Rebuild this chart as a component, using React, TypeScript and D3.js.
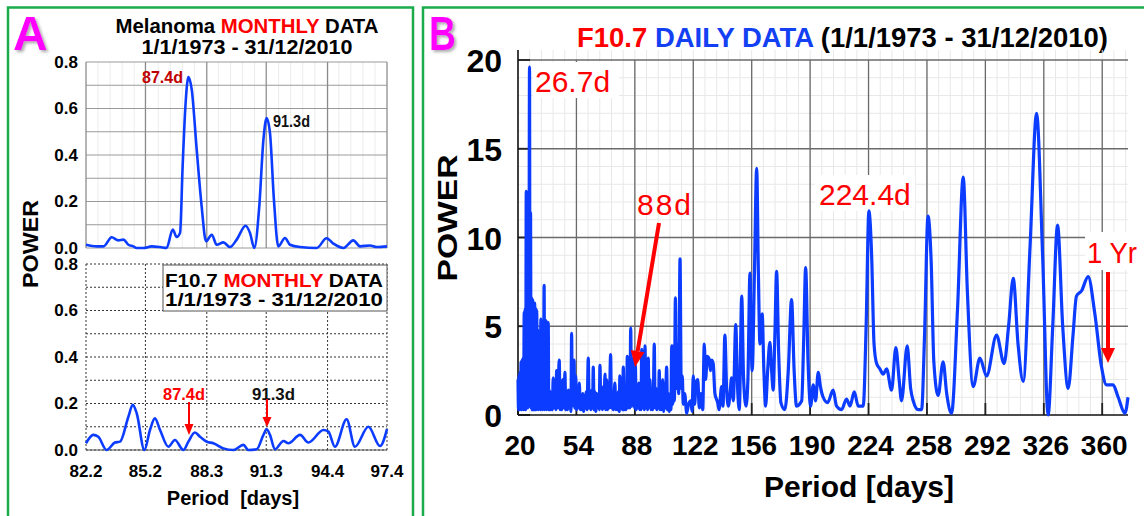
import React from 'react';
import * as d3 from 'd3';

const W = 1144;
const H = 516;
const FONT = '"Liberation Sans", Arial, sans-serif';
const BLUE = '#0b3cff';
const RED = '#ff0000';
const GREEN = '#1aab4b';

// Panel A: [period in days, power]
const melanomaMonthly: [number, number][] = [
    [82.2, 0.014], [82.74, 0.007], [83.08, 0.007], [83.5, 0.046], [83.83, 0.033], [84.09, 0.036],
    [84.34, 0.014], [84.59, 0.007], [84.76, 0], [85.1, 0], [85.52, 0.007], [85.94, 0.004],
    [86.27, 0], [86.58, 0.079], [86.78, 0.047], [86.95, 0.065], [87.08, 0.351], [87.22, 0.609],
    [87.37, 0.735], [87.54, 0.681], [87.79, 0.423], [88.04, 0.179], [88.26, 0.029], [88.55, 0.057],
    [88.8, 0.014], [89.14, 0.024], [89.47, 0.004], [89.81, 0.036], [90.26, 0.096], [90.48, 0.065],
    [90.7, 0], [90.95, 0.179], [91.16, 0.466], [91.32, 0.559], [91.49, 0.495], [91.69, 0.208],
    [91.91, 0.007], [92.25, 0.043], [92.5, 0.014], [93.01, 0.004], [93.85, 0], [94.35, 0.042],
    [94.69, 0.019], [95.2, 0], [95.7, 0.033], [96.04, 0.007], [96.54, 0.011], [96.88, 0.004],
    [97.4, 0.007],
];

const f107Monthly: [number, number][] = [
    [82.2, 0.029], [82.57, 0.065], [82.82, 0.057], [83.24, 0], [83.66, 0.032], [83.92, 0.036],
    [84.34, 0.143], [84.56, 0.194], [84.76, 0.158], [85.15, 0], [85.43, 0.086], [85.68, 0.136],
    [85.94, 0.086], [86.36, 0.014], [86.69, 0.043], [87.12, 0], [87.37, 0.036], [87.7, 0.075],
    [87.96, 0.057], [88.29, 0.036], [88.63, 0.029], [89.14, 0.007], [89.64, 0], [90.15, 0.022],
    [90.4, 0], [90.82, 0.003], [91.16, 0.065], [91.32, 0.089], [91.49, 0.065], [91.74, 0.003],
    [92.17, 0.039], [92.42, 0.029], [93.01, 0.065], [93.43, 0.032], [94.19, 0.086], [94.44, 0.079],
    [94.77, 0.014], [95.36, 0.132], [95.78, 0.014], [96.46, 0.1], [97.05, 0.017], [97.4, 0.09],
];

const aTicksX = [82.2, 85.2, 88.3, 91.3, 94.4, 97.4];
const aTicksY = [0, 0.2, 0.4, 0.6, 0.8];

// Panel B: [period in days, power]
const f107Daily: [number, number][] = [
    [20.0, 2.0], [20.3, 0.3], [20.6, 2.2], [20.9, 0.3], [21.2, 2.4], [21.5, 0.4], [21.8, 3.0], [22.1, 0.3],
    [22.4, 3.1], [22.7, 0.4], [23.0, 3.2], [23.3, 0.3], [23.6, 5.8], [23.9, 0.4], [24.2, 6.0], [24.5, 0.3],
    [24.8, 12.6], [25.1, 0.5], [25.4, 6.2], [25.7, 0.4], [26.0, 9.5], [26.3, 0.5], [26.7, 19.6], [27.0, 0.5],
    [27.3, 11.4], [27.6, 0.4], [27.9, 6.6], [28.2, 0.3], [28.5, 6.5], [28.8, 0.4], [29.1, 6.2], [29.4, 0.3],
    [29.7, 6.3], [30.0, 0.4], [30.3, 6.0], [30.6, 0.3], [30.9, 5.9], [31.2, 0.4], [31.5, 4.8], [31.8, 0.3],
    [32.1, 3.1], [32.4, 0.4], [32.7, 4.5], [33.0, 0.3], [33.3, 5.4], [33.6, 0.4], [33.9, 4.0], [34.2, 0.3],
    [34.5, 3.5], [34.8, 0.4], [35.2, 7.3], [35.5, 0.3], [35.8, 5.3], [36.1, 0.4], [36.4, 5.3], [36.7, 0.3],
    [37.0, 5.2], [37.3, 0.4], [37.6, 5.2], [37.9, 0.3], [38.2, 1.4], [38.5, 0.3], [38.8, 1.3], [39.0, 0.3],
    [39.5, 1.2], [40.0, 0.3], [40.5, 2.1], [41.0, 0.4], [41.5, 1.6], [42.0, 0.3], [42.5, 2.5], [43.0, 0.4],
    [43.5, 1.8], [44.0, 3.1], [44.5, 0.3], [45.0, 1.5], [45.5, 0.3], [46.0, 2.0], [46.5, 0.4], [47.0, 1.3],
    [47.3, 2.4], [47.8, 0.3], [48.3, 1.2], [48.8, 0.3], [49.3, 1.4], [49.8, 0.4], [50.3, 1.0], [50.8, 0.2],
    [51.2, 4.6], [51.6, 0.5], [52.1, 1.5], [52.6, 3.1], [53.1, 0.4], [53.6, 2.2], [54.1, 0.3], [54.6, 1.3],
    [55.1, 0.4], [55.7, 1.8], [56.2, 0.3], [56.7, 1.1], [57.2, 0.3], [57.7, 1.2], [58.2, 0.2], [58.7, 1.0],
    [59.2, 0.4], [59.7, 1.3], [60.2, 0.3], [60.9, 3.2], [61.4, 0.4], [61.9, 1.2], [62.4, 0.3], [62.9, 1.4],
    [63.4, 0.4], [63.8, 2.7], [64.3, 0.3], [64.8, 1.3], [65.3, 0.2], [65.8, 1.2], [66.3, 0.4], [66.8, 1.0],
    [67.3, 0.3], [67.7, 2.8], [68.2, 0.4], [68.7, 1.5], [69.2, 0.3], [69.7, 1.6], [70.1, 0.4], [70.6, 2.3],
    [71.1, 0.3], [71.6, 2.0], [72.1, 0.3], [72.6, 1.1], [73.1, 0.4], [73.9, 3.4], [74.4, 0.4], [74.9, 1.2],
    [75.4, 0.3], [75.9, 1.0], [76.4, 1.8], [76.9, 0.3], [77.4, 1.1], [77.9, 0.3], [78.4, 1.3], [78.9, 0.2],
    [79.3, 2.2], [79.8, 0.4], [80.3, 1.2], [80.8, 0.3], [81.3, 2.7], [81.8, 0.3], [82.3, 1.5], [82.8, 0.3],
    [83.3, 1.2], [83.6, 3.3], [84.1, 0.4], [84.6, 1.8], [85.1, 0.4], [85.6, 4.9], [86.1, 0.5], [86.6, 2.5],
    [87.0, 0.6], [87.4, 3.2], [87.9, 0.4], [88.3, 2.8], [88.8, 0.3], [89.3, 1.2], [89.8, 0.4], [90.3, 1.8],
    [90.8, 0.3], [91.3, 1.6], [91.6, 0.3], [92.0, 3.7], [92.5, 0.4], [93.0, 1.5], [93.5, 0.3], [93.9, 3.9],
    [94.4, 0.4], [94.9, 2.0], [95.4, 0.3], [95.8, 3.2], [96.3, 0.5], [96.8, 2.0], [97.3, 0.3], [97.8, 1.5],
    [98.3, 0.3], [98.8, 1.2], [99.3, 4.0], [99.8, 0.4], [100.3, 1.5], [100.8, 0.3], [101.3, 1.2], [101.8, 0.4],
    [102.2, 2.5], [102.7, 0.3], [103.2, 1.5], [103.7, 0.3], [104.2, 2.0], [104.7, 0.2], [105.2, 1.1], [105.7, 0.4],
    [106.5, 2.7], [107.0, 0.3], [107.5, 1.2], [108.0, 0.2], [108.5, 1.0], [109.0, 0.3], [109.5, 3.9], [110.0, 0.6],
    [110.5, 3.9], [111.0, 0.8], [111.6, 6.6], [112.2, 1.5], [112.8, 4.0], [113.5, 1.2], [114.3, 8.8], [115.0, 1.5],
    [115.6, 2.2], [116.2, 0.6], [117.0, 1.2], [118.2, 0.1], [119.2, 0.6], [120.5, 0.8], [121.3, 0.2], [122.0, 2.2],
    [122.8, 0.6], [123.6, 1.8], [124.6, 2.0], [125.5, 0.4], [126.5, 1.2], [127.5, 0.3], [128.4, 4.0], [129.2, 2.0],
    [130.1, 3.3], [131.1, 3.2], [132.0, 2.5], [132.7, 3.1], [133.6, 2.9], [134.6, 1.2], [136.2, 0.7], [137.0, 0.3],
    [138.5, 1.6], [139.3, 0.5], [140.4, 4.5], [141.4, 1.5], [142.4, 0.5], [143.4, 1.2], [144.3, 2.1], [145.3, 0.8],
    [146.7, 5.1], [147.8, 1.5], [148.8, 0.3], [150.2, 6.7], [151.3, 2.0], [152.7, 0.5], [153.8, 2.0], [155.0, 8.0],
    [155.7, 4.0], [156.3, 2.5], [157.6, 8.0], [158.9, 13.9], [159.9, 8.0], [160.8, 4.0], [162.1, 5.7], [163.1, 2.5],
    [164.1, 0.5], [165.3, 2.5], [166.6, 4.1], [167.6, 2.5], [168.5, 1.4], [169.5, 4.5], [170.5, 8.1], [171.7, 3.5],
    [173.0, 0.7], [175.3, 0.3], [177.3, 2.5], [179.2, 6.5], [180.7, 2.5], [182.1, 0.5], [185.1, 0.8], [186.2, 4.0],
    [187.4, 8.3], [188.8, 3.0], [190.3, 0.5], [191.8, 1.7], [193.2, 0.8], [194.7, 2.4], [196.0, 1.6], [197.6, 1.0],
    [200.2, 0.7], [203.4, 1.4], [205.4, 0.5], [208.3, 0.3], [211.2, 0.9], [213.2, 0.5], [215.7, 1.3], [218.0, 0.5],
    [220.9, 0.5], [222.6, 5.0], [224.2, 11.5], [225.8, 9.0], [227.2, 4.0], [228.7, 2.9], [230.6, 2.6], [232.5, 2.3],
    [234.5, 2.6], [237.4, 1.4], [239.9, 3.8], [241.8, 2.0], [243.2, 0.8], [246.5, 3.9], [248.5, 1.5], [250.0, 0.8],
    [252.9, 0.3], [254.9, 0.3], [256.6, 4.5], [258.6, 11.2], [260.5, 8.5], [262.0, 3.0], [264.5, 1.1], [267.4, 3.0],
    [269.5, 1.2], [272.3, 0.1], [275.8, 6.0], [279.1, 13.4], [281.5, 7.0], [284.9, 1.6], [288.8, 3.2], [292.7, 2.2],
    [298.5, 4.5], [302.9, 2.9], [305.5, 5.0], [308.2, 7.7], [311.0, 4.0], [314.0, 1.9], [318.0, 9.5], [321.8, 17.0],
    [325.3, 9.0], [328.5, 0.0], [331.2, 5.0], [334.0, 10.7], [337.0, 5.0], [340.2, 1.5], [343.0, 4.5], [345.0, 6.7],
    [348.0, 7.0], [351.8, 7.8], [355.7, 5.7], [359.6, 2.7], [362.5, 1.7], [366.3, 1.7], [369.3, 1.0], [373.2, 0.1],
    [375.0, 1.0],
];

const bTicksX = [20, 54, 88, 122, 156, 190, 224, 258, 292, 326, 360];
const bTicksY = [0, 5, 10, 15, 20];

// scales
const xA = d3.scaleLinear().domain([82.2, 97.4]).range([86, 387]);
const yATop = d3.scaleLinear().domain([0, 0.8]).range([248, 62]);
const yABot = d3.scaleLinear().domain([0, 0.8]).range([450, 264]);
const xB = d3.scaleLinear().domain([20, 375]).range([518, 1128]);
const yB = d3.scaleLinear().domain([0, 20]).range([415, 60]);

const arrowHead = (x1: number, y1: number, x2: number, y2: number, len: number, half: number) => {
    const a = Math.atan2(y2 - y1, x2 - x1);
    const bx = x2 - len * Math.cos(a);
    const by = y2 - len * Math.sin(a);
    const px = -Math.sin(a) * half;
    const py = Math.cos(a) * half;
    return {
        line: [x1, y1, bx, by],
        head: `${x2},${y2} ${bx + px},${by + py} ${bx - px},${by - py}`,
    };
};

const Arrow: React.FC<{ x1: number; y1: number; x2: number; y2: number; w: number; len: number; half: number }> = ({ x1, y1, x2, y2, w, len, half }) => {
    const a = arrowHead(x1, y1, x2, y2, len, half);
    return (
        <g>
            <line x1={a.line[0]} y1={a.line[1]} x2={a.line[2]} y2={a.line[3]} stroke={RED} strokeWidth={w} />
            <polygon points={a.head} fill={RED} />
        </g>
    );
};

const PanelA: React.FC = () => {
    const lineTop = d3.line<[number, number]>().x(d => xA(d[0])).y(d => yATop(d[1])).curve(d3.curveMonotoneX);
    const lineBot = d3.line<[number, number]>().x(d => xA(d[0])).y(d => yABot(d[1])).curve(d3.curveMonotoneX);
    const hGrid = d3.range(0, 9).map(i => i / 10);
    const minorX = d3.range(0, 26).map(i => 82.2 + (i * 15.2) / 25);
    const [x0, x1] = xA.range();

    return (
        <g fontFamily={FONT}>
            <rect x={8} y={7.5} width={405} height={H} fill="none" stroke={GREEN} strokeWidth={2.5} />
            <text x={13} y={50} fontSize={48} fontWeight="bold" fill="#ff00ff" filter="url(#sh)">A</text>

            <text x={247} y={33} fontSize={20} fontWeight="bold" textAnchor="middle" textLength={263} lengthAdjust="spacingAndGlyphs">
                Melanoma <tspan fill={RED}>MONTHLY</tspan> DATA
            </text>
            <text x={247} y={54} fontSize={20} fontWeight="bold" textAnchor="middle" textLength={211} lengthAdjust="spacingAndGlyphs">
                1/1/1973 - 31/12/2010
            </text>

            {/* top plot grid */}
            {minorX.map((v, i) => (
                <line key={'mx' + i} x1={xA(v)} x2={xA(v)} y1={yATop(0.8)} y2={yATop(0)} stroke="#ececec" />
            ))}
            {hGrid.map(v => (
                <line key={'ht' + v} x1={x0} x2={x1} y1={yATop(v)} y2={yATop(v)} stroke="#9a9a9a" strokeWidth={1} />
            ))}
            {aTicksX.map(v => (
                <line key={'vt' + v} x1={xA(v)} x2={xA(v)} y1={yATop(0.8)} y2={yATop(0)} stroke="#8a8a8a" strokeWidth={1.2} />
            ))}
            <path d={lineTop(melanomaMonthly) || ''} fill="none" stroke={BLUE} strokeWidth={2.6} />
            {aTicksY.map(v => (
                <text key={'yt' + v} x={78} y={yATop(v)} fontSize={17} fontWeight="bold" textAnchor="end" dominantBaseline="central">
                    {v.toFixed(1)}
                </text>
            ))}
            <text x={142} y={83} fontSize={16} fontWeight="bold" fill="#c00000" textLength={41} lengthAdjust="spacingAndGlyphs">87.4d</text>
            <text x={273} y={127} fontSize={16} fontWeight="bold" fill="#111" textLength={37} lengthAdjust="spacingAndGlyphs">91.3d</text>

            {/* bottom plot grid */}
            {hGrid.map(v => (
                <line key={'hb' + v} x1={x0} x2={x1} y1={yABot(v)} y2={yABot(v)} stroke="#333" strokeWidth={1} strokeDasharray="2 2" />
            ))}
            {aTicksX.map(v => (
                <line key={'vb' + v} x1={xA(v)} x2={xA(v)} y1={yABot(0.8)} y2={yABot(0)} stroke="#333" strokeWidth={1} strokeDasharray="2 2" />
            ))}
            <line x1={x0} x2={x1} y1={yABot(0)} y2={yABot(0)} stroke="#555" strokeWidth={1.2} />
            <rect x={163} y={265} width={224} height={46} fill="#fff" stroke="#555" strokeWidth={1} />
            <text x={165} y={287} fontSize={18} fontWeight="bold" textLength={218} lengthAdjust="spacingAndGlyphs">
                F10.7 <tspan fill={RED}>MONTHLY</tspan> DATA
            </text>
            <text x={165} y={306} fontSize={18} fontWeight="bold" textLength={218} lengthAdjust="spacingAndGlyphs">
                1/1/1973 - 31/12/2010
            </text>
            <path d={lineBot(f107Monthly) || ''} fill="none" stroke={BLUE} strokeWidth={2.6} />
            {aTicksY.map(v => (
                <text key={'yb' + v} x={78} y={yABot(v)} fontSize={17} fontWeight="bold" textAnchor="end" dominantBaseline="central">
                    {v.toFixed(1)}
                </text>
            ))}
            <text x={163} y={400} fontSize={17} fontWeight="bold" fill={RED} textLength={42} lengthAdjust="spacingAndGlyphs">87.4d</text>
            <text x={252} y={400} fontSize={17} fontWeight="bold" fill="#111" textLength={43} lengthAdjust="spacingAndGlyphs">91.3d</text>
            <Arrow x1={189} y1={402} x2={189} y2={435} w={2} len={11} half={4.5} />
            <Arrow x1={267} y1={399} x2={267} y2={427} w={2} len={10} half={4.5} />

            {aTicksX.map(v => (
                <text key={'xl' + v} x={xA(v)} y={477} fontSize={17} fontWeight="bold" textAnchor="middle">
                    {v.toFixed(1)}
                </text>
            ))}
            <text x={233} y={505} fontSize={20} fontWeight="bold" textAnchor="middle" style={{ whiteSpace: 'pre' }}>
                {'Period  [days]'}
            </text>
            <text transform="translate(38,244) rotate(-90)" fontSize={22} fontWeight="bold" textAnchor="middle" textLength={88} lengthAdjust="spacingAndGlyphs">
                POWER
            </text>
        </g>
    );
};

const PanelB: React.FC = () => {
    const line = d3.line<[number, number]>().x(d => xB(d[0])).y(d => yB(d[1])).curve(d3.curveMonotoneX);
    const minorX = d3.range(0, 53).map(i => 20 + i * 6.8).filter(v => v <= 375);
    const minorY = d3.range(1, 21).filter(v => v % 5 !== 0);
    const [x0, x1] = xB.range();
    const top = 50;

    return (
        <g fontFamily={FONT}>
            <rect x={423} y={7.5} width={730} height={H} fill="none" stroke={GREEN} strokeWidth={2.5} />
            <text x={429} y={50} fontSize={48} fontWeight="bold" fill="#ff00ff" filter="url(#sh)" textLength={27} lengthAdjust="spacingAndGlyphs">B</text>
            <text x={577} y={47} fontSize={27} fontWeight="bold" textLength={531} lengthAdjust="spacingAndGlyphs">
                <tspan fill={RED}>F10.7</tspan> <tspan fill="#1340f2">DAILY DATA</tspan> (1/1/1973 - 31/12/2010)
            </text>

            {/* grid */}
            {minorX.map((v, i) => (
                <line key={'mx' + i} x1={xB(v)} x2={xB(v)} y1={top} y2={yB(0)} stroke="#e8e8e8" />
            ))}
            {minorY.map(v => (
                <line key={'my' + v} x1={x0} x2={x1} y1={yB(v)} y2={yB(v)} stroke="#e8e8e8" />
            ))}
            {bTicksY.filter(v => v > 0).map(v => (
                <line key={'hy' + v} x1={x0} x2={x1} y1={yB(v)} y2={yB(v)} stroke="#6a6a6a" strokeWidth={1.3} />
            ))}
            {bTicksX.filter(v => v > 20).map(v => (
                <line key={'vx' + v} x1={xB(v)} x2={xB(v)} y1={yB(20)} y2={yB(0)} stroke="#6a6a6a" strokeWidth={1.3} />
            ))}
            {bTicksX.map(v => (
                <line key={'tx' + v} x1={xB(v)} x2={xB(v)} y1={yB(0) - 12} y2={yB(0)} stroke="#222" strokeWidth={1.8} />
            ))}
            {bTicksY.map(v => (
                <line key={'ty' + v} x1={x0} x2={x0 + 12} y1={yB(v)} y2={yB(v)} stroke="#222" strokeWidth={1.8} />
            ))}
            <line x1={x0} x2={x0} y1={top} y2={yB(0)} stroke="#111" strokeWidth={1.6} />
            <line x1={x0} x2={x1} y1={yB(0)} y2={yB(0)} stroke="#111" strokeWidth={1.6} />

            {/* label backgrounds */}
            <rect x={533} y={62} width={86} height={36} fill="#fff" />
            <rect x={815} y={175} width={100} height={36} fill="#fff" />
            <rect x={1085} y={232} width={59} height={38} fill="#fff" />

            <path d={line(f107Daily) || ''} fill="none" stroke={BLUE} strokeWidth={3.2} strokeLinejoin="round" />

            {bTicksY.map(v => (
                <text key={'yl' + v} x={502} y={yB(v) + 1} fontSize={32} fontWeight="bold" textAnchor="end" dominantBaseline="central">
                    {v}
                </text>
            ))}
            {bTicksX.map(v => (
                <text key={'xl' + v} x={xB(v) + 2} y={455} fontSize={28} fontWeight="bold" textAnchor="middle">
                    {v}
                </text>
            ))}
            <text x={859} y={497} fontSize={30} fontWeight="bold" textAnchor="middle">Period [days]</text>
            <text transform="translate(457,218) rotate(-90)" fontSize={28} fontWeight="bold" textAnchor="middle" textLength={127} lengthAdjust="spacingAndGlyphs">
                POWER
            </text>

            <text x={535} y={92} fontSize={30} fill={RED}>26.7d</text>
            <text x={637} y={215} fontSize={30} fill={RED} textLength={54} lengthAdjust="spacing">88d</text>
            <text x={819} y={205} fontSize={30} fill={RED}>224.4d</text>
            <text x={1087} y={263} fontSize={30} fill={RED} textLength={50} lengthAdjust="spacingAndGlyphs">1 Yr</text>
            <Arrow x1={659} y1={223} x2={635} y2={367} w={4} len={16} half={7} />
            <Arrow x1={1108} y1={272} x2={1108} y2={363} w={4} len={15} half={7} />
        </g>
    );
};

const App: React.FC = () => (
    <svg width={W} height={H} viewBox={`0 0 ${W} ${H}`} style={{ position: 'absolute', left: 0, top: 0, background: '#fff' }}>
        <defs>
            <filter id="sh" x="-20%" y="-20%" width="150%" height="150%">
                <feDropShadow dx={2} dy={2} stdDeviation={1.5} floodColor="#888" floodOpacity={0.7} />
            </filter>
        </defs>
        <rect width={W} height={H} fill="#fff" />
        <PanelA />
        <PanelB />
    </svg>
);

export default App;
